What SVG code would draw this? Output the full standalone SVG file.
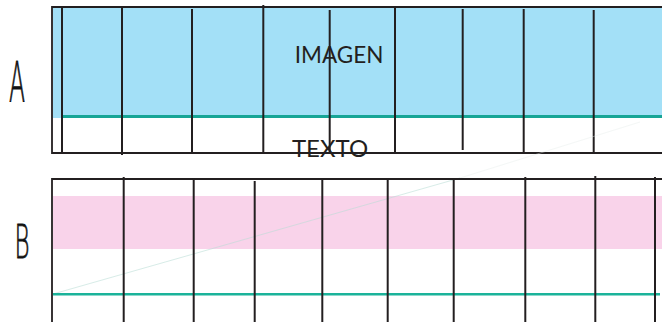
<svg xmlns="http://www.w3.org/2000/svg" width="662" height="322" viewBox="0 0 662 322">
<style>
.ln{stroke:#231f20;stroke-width:2;fill:none;stroke-linecap:butt}
.bd{stroke:#231f20;stroke-width:1.8;fill:none}
.lbl{font-family:Lato,"Open Sans",sans-serif;fill:#231f20}
.hand{font-family:"DejaVu Sans","Liberation Sans",sans-serif;font-weight:200;fill:#111;stroke:#111;stroke-width:0.8}
</style>
<rect width="662" height="322" fill="#fff"/>
<g id="panelA">
<rect x="53" y="7" width="609" height="111" fill="#a3e0f7"/>
<line x1="62" y1="116.5" x2="662" y2="116.5" stroke="#17a596" stroke-width="3"/>
<path class="bd" d="M662 7H52V153H662"/>
<g class="ln">
<line x1="62" y1="6" x2="62" y2="154"/>
<line x1="122" y1="6" x2="122" y2="155"/>
<line x1="192" y1="9" x2="192" y2="154"/>
<line x1="263.3" y1="5" x2="263.3" y2="152"/>
<line x1="329.7" y1="10" x2="329.7" y2="152"/>
<line x1="395" y1="8" x2="395" y2="152"/>
<line x1="462.7" y1="9" x2="462.7" y2="150"/>
<line x1="523.7" y1="9" x2="523.7" y2="153"/>
<line x1="593.7" y1="10" x2="593.7" y2="154"/>
</g>
<text class="lbl" x="339" y="62.5" text-anchor="middle" font-size="22.5">IMAGEN</text>
<text class="lbl" x="330" y="157" text-anchor="middle" font-size="24">TEXTO</text>
<text class="hand" x="17" y="101" text-anchor="middle" font-size="56" transform="translate(17 0) scale(0.42 1) translate(-17 0)">A</text>
</g>
<g id="panelB">
<rect x="53" y="196" width="609" height="53" fill="#f9d3ea"/>
<line x1="53" y1="294" x2="460" y2="178" stroke="#b9ddd6" stroke-width="0.8" opacity="0.7"/>
<line x1="460" y1="178" x2="640" y2="122" stroke="#e4ecea" stroke-width="0.8" opacity="0.5"/>
<line x1="53" y1="294.3" x2="660" y2="294.3" stroke="#1bb39a" stroke-width="2.5"/>
<path class="bd" d="M52 322V179H662"/>
<g class="ln">
<line x1="123.7" y1="177" x2="123.7" y2="322"/>
<line x1="193.7" y1="178" x2="193.7" y2="322"/>
<line x1="254.7" y1="181" x2="254.7" y2="322"/>
<line x1="322.3" y1="179" x2="322.3" y2="322"/>
<line x1="387.7" y1="179" x2="387.7" y2="322"/>
<line x1="453.7" y1="179" x2="453.7" y2="322"/>
<line x1="525.3" y1="177" x2="525.3" y2="322"/>
<line x1="595.3" y1="176" x2="595.3" y2="322"/>
<line x1="655" y1="177" x2="655" y2="322"/>
</g>
<text class="hand" x="22" y="258" text-anchor="middle" font-size="46" transform="translate(22 0) scale(0.5 1) translate(-22 0)">B</text>
</g>
</svg>
